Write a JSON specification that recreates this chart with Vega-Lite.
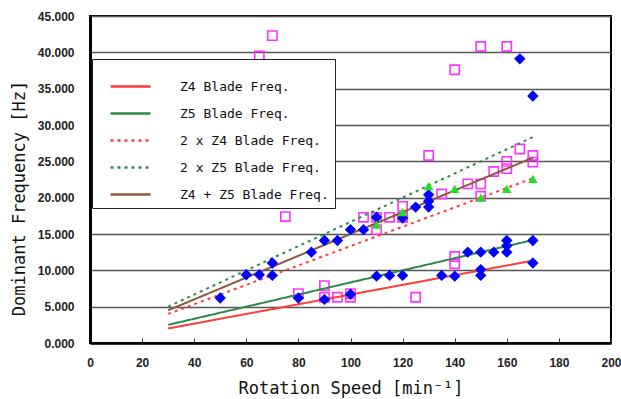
{
  "$schema": "https://vega.github.io/schema/vega-lite/v6.json",
  "width": 521,
  "height": 327,
  "autosize": "none",
  "padding": {"left": 90, "top": 16, "right": 10, "bottom": 56},
  "background": "white",
  "config": {
    "view": {"stroke": "black", "strokeWidth": 2},
    "axis": {"labelFont": "Liberation Sans", "labelFontWeight": "bold", "labelFontSize": 12, "labelColor": "#222222", "titleFont": "DejaVu Sans Mono", "titleFontWeight": "normal", "titleFontSize": 17, "titleColor": "#111111"}
  },
  "datasets": {
    "lines": [
      {"series": "Z4 Blade Freq.", "speed": 30, "freq": 2000},
      {"series": "Z4 Blade Freq.", "speed": 170, "freq": 11333},
      {"series": "Z5 Blade Freq.", "speed": 30, "freq": 2500},
      {"series": "Z5 Blade Freq.", "speed": 170, "freq": 14167},
      {"series": "2 x Z4 Blade Freq.", "speed": 30, "freq": 4000},
      {"series": "2 x Z4 Blade Freq.", "speed": 170, "freq": 22667},
      {"series": "2 x Z5 Blade Freq.", "speed": 30, "freq": 5000},
      {"series": "2 x Z5 Blade Freq.", "speed": 170, "freq": 28333},
      {"series": "Z4 + Z5 Blade Freq.", "speed": 30, "freq": 4500},
      {"series": "Z4 + Z5 Blade Freq.", "speed": 170, "freq": 25500}
    ],
    "points": [
      {"type": "diamond", "speed": 50, "freq": 6200},
      {"type": "diamond", "speed": 60, "freq": 9400},
      {"type": "diamond", "speed": 65, "freq": 9400},
      {"type": "diamond", "speed": 70, "freq": 11000},
      {"type": "diamond", "speed": 70, "freq": 9300},
      {"type": "diamond", "speed": 80, "freq": 6200},
      {"type": "diamond", "speed": 85, "freq": 12500},
      {"type": "diamond", "speed": 90, "freq": 14100},
      {"type": "diamond", "speed": 90, "freq": 6000},
      {"type": "diamond", "speed": 95, "freq": 14100},
      {"type": "diamond", "speed": 100, "freq": 15600},
      {"type": "diamond", "speed": 100, "freq": 6700},
      {"type": "diamond", "speed": 105, "freq": 15600},
      {"type": "diamond", "speed": 110, "freq": 17300},
      {"type": "diamond", "speed": 110, "freq": 9200},
      {"type": "diamond", "speed": 115, "freq": 9300},
      {"type": "diamond", "speed": 120, "freq": 17200},
      {"type": "diamond", "speed": 120, "freq": 9300},
      {"type": "diamond", "speed": 125, "freq": 18700},
      {"type": "diamond", "speed": 130, "freq": 20400},
      {"type": "diamond", "speed": 130, "freq": 19500},
      {"type": "diamond", "speed": 130, "freq": 18700},
      {"type": "diamond", "speed": 135, "freq": 9300},
      {"type": "diamond", "speed": 140, "freq": 9200},
      {"type": "diamond", "speed": 145, "freq": 12500},
      {"type": "diamond", "speed": 150, "freq": 12500},
      {"type": "diamond", "speed": 150, "freq": 10100},
      {"type": "diamond", "speed": 150, "freq": 9300},
      {"type": "diamond", "speed": 155, "freq": 12500},
      {"type": "diamond", "speed": 160, "freq": 14100},
      {"type": "diamond", "speed": 160, "freq": 13400},
      {"type": "diamond", "speed": 160, "freq": 12500},
      {"type": "diamond", "speed": 165, "freq": 39100},
      {"type": "diamond", "speed": 170, "freq": 34000},
      {"type": "diamond", "speed": 170, "freq": 14100},
      {"type": "diamond", "speed": 170, "freq": 11000},
      {"type": "square", "speed": 65, "freq": 39500},
      {"type": "square", "speed": 70, "freq": 42300},
      {"type": "square", "speed": 75, "freq": 17400},
      {"type": "square", "speed": 80, "freq": 6800},
      {"type": "square", "speed": 90, "freq": 7900},
      {"type": "square", "speed": 90, "freq": 6300},
      {"type": "square", "speed": 95, "freq": 6300},
      {"type": "square", "speed": 100, "freq": 6800},
      {"type": "square", "speed": 100, "freq": 6300},
      {"type": "square", "speed": 105, "freq": 17300},
      {"type": "square", "speed": 110, "freq": 17300},
      {"type": "square", "speed": 110, "freq": 15600},
      {"type": "square", "speed": 115, "freq": 17300},
      {"type": "square", "speed": 120, "freq": 18800},
      {"type": "square", "speed": 120, "freq": 17300},
      {"type": "square", "speed": 125, "freq": 6300},
      {"type": "square", "speed": 130, "freq": 25800},
      {"type": "square", "speed": 135, "freq": 20500},
      {"type": "square", "speed": 140, "freq": 37600},
      {"type": "square", "speed": 140, "freq": 11900},
      {"type": "square", "speed": 140, "freq": 10900},
      {"type": "square", "speed": 145, "freq": 21900},
      {"type": "square", "speed": 150, "freq": 40800},
      {"type": "square", "speed": 150, "freq": 21900},
      {"type": "square", "speed": 150, "freq": 20200},
      {"type": "square", "speed": 155, "freq": 23600},
      {"type": "square", "speed": 160, "freq": 40800},
      {"type": "square", "speed": 160, "freq": 25000},
      {"type": "square", "speed": 160, "freq": 24000},
      {"type": "square", "speed": 165, "freq": 26700},
      {"type": "square", "speed": 170, "freq": 25800},
      {"type": "square", "speed": 170, "freq": 24900},
      {"type": "triangle", "speed": 110, "freq": 16300},
      {"type": "triangle", "speed": 120, "freq": 18000},
      {"type": "triangle", "speed": 130, "freq": 21600},
      {"type": "triangle", "speed": 140, "freq": 21200},
      {"type": "triangle", "speed": 150, "freq": 20000},
      {"type": "triangle", "speed": 160, "freq": 21200},
      {"type": "triangle", "speed": 170, "freq": 22600}
    ]
  },
  "encoding": {
    "x": {"field": "speed", "type": "quantitative",
      "scale": {"domain": [0, 200], "nice": false},
      "axis": {"title": "Rotation Speed [min⁻¹]", "values": [0,20,40,60,80,100,120,140,160,180,200], "grid": false, "domainColor": "black", "domainWidth": 2.5, "tickColor": "#333333", "tickSize": -5, "tickWidth": 1, "labelPadding": 19, "labelFlush": false, "titleBaseline": "middle", "titleY": 45}},
    "y": {"field": "freq", "type": "quantitative",
      "scale": {"domain": [0, 45000], "nice": false},
      "axis": {"title": "Dominant Frequency [Hz]", "values": [0,5000,10000,15000,20000,25000,30000,35000,40000,45000], "labelExpr": "format(datum.value / 1000, '.3f')", "grid": true, "gridColor": "#555555", "gridWidth": 1.6, "ticks": false, "labelPadding": 16, "domainColor": "black", "domainWidth": 3, "titleX": -71, "titleY": 182, "titleBaseline": "middle", "titleAlign": "center"}}
  },
  "layer": [
    {
      "data": {"name": "points"},
      "transform": [{"filter": "datum.type === 'square'"}],
      "mark": {"type": "point", "shape": "square", "filled": false, "stroke": "#ff33ff", "strokeWidth": 1.6, "size": 85, "opacity": 1}
    },
    {
      "data": {"name": "lines"},
      "mark": {"type": "line", "strokeWidth": 2},
      "encoding": {
        "color": {"field": "series", "type": "nominal",
          "scale": {"domain": ["Z4 Blade Freq.", "Z5 Blade Freq.", "2 x Z4 Blade Freq.", "2 x Z5 Blade Freq.", "Z4 + Z5 Blade Freq."], "range": ["#ff3b3b", "#2e8a4a", "#ff3b3b", "#2e8a4a", "#8b5a3c"]},
          "legend": {"title": " ", "titleFontSize": 5, "titlePadding": 5, "orient": "none", "legendX": 2, "legendY": 43, "fillColor": "white", "strokeColor": "#222222", "padding": 6, "symbolType": "M-2,0H2", "symbolSize": 400, "symbolStrokeWidth": 2.5, "symbolOffset": 21, "labelFont": "DejaVu Sans Mono", "labelFontSize": 13, "labelColor": "#111111", "labelOffset": 38, "rowPadding": 8, "labelLimit": 300}},
        "strokeDash": {"field": "series", "type": "nominal",
          "scale": {"domain": ["Z4 Blade Freq.", "Z5 Blade Freq.", "2 x Z4 Blade Freq.", "2 x Z5 Blade Freq.", "Z4 + Z5 Blade Freq."], "range": [[1, 0], [1, 0], [3, 4], [3, 4], [1, 0]]},
          "legend": {"title": " "}},
        "detail": {"field": "series"}
      }
    },
    {
      "data": {"name": "points"},
      "transform": [{"filter": "datum.type === 'diamond'"}],
      "mark": {"type": "point", "shape": "diamond", "filled": true, "fill": "#0000ff", "size": 130, "opacity": 1}
    },
    {
      "data": {"name": "points"},
      "transform": [{"filter": "datum.type === 'triangle'"}],
      "mark": {"type": "point", "shape": "triangle-up", "filled": true, "fill": "#22dd22", "size": 90, "opacity": 1}
    }
  ]
}
